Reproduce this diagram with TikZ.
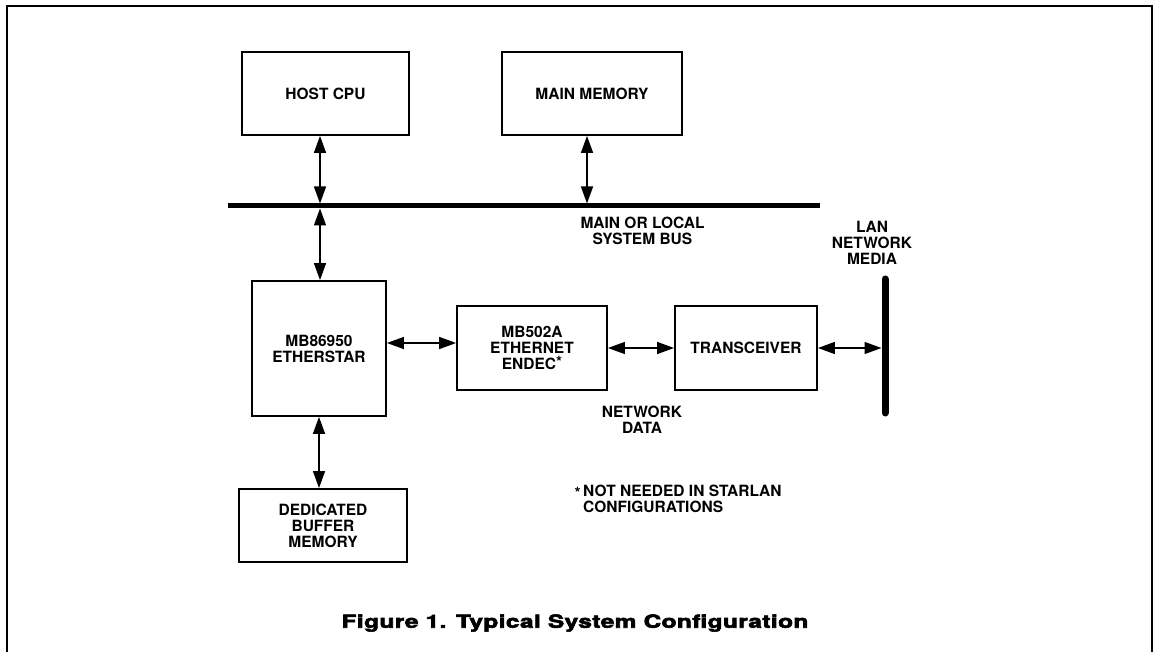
\documentclass[tikz,border=0pt]{standalone}
\usepackage{fontspec}
\setmainfont{TeX Gyre Heros}
\usetikzlibrary{arrows.meta}

\begin{document}
\begin{tikzpicture}[x=1pt, y=-1pt, font=\bfseries\fontsize{15.5}{16}\selectfont,
    blockbox/.style={draw, line width=1.8pt, inner sep=0pt, align=center},
    duplex/.style={line width=1.4pt, {Triangle[length=17pt,width=12pt]}-{Triangle[length=17pt,width=12pt]}},
    notetext/.style={inner sep=0pt, align=center}]
    \useasboundingbox (0,0) rectangle (1157,652);
    \draw[line width=1.2pt] (7,652) -- (7,6) -- (1152,6) -- (1152,652);

    % blocks
    \node[blockbox, minimum width=167pt, minimum height=83pt] (host) at (325.5,93.5) {HOST CPU};
    \node[blockbox, minimum width=180pt, minimum height=83pt] (mem) at (592,93.5) {MAIN MEMORY};
    \node[blockbox, minimum width=134pt, minimum height=135pt] (ether) at (319,348.5) {MB86950\\ETHERSTAR};
    \node[blockbox, minimum width=150pt, minimum height=84pt] (endec) at (532,348) {MB502A\\ETHERNET\\ENDEC\raisebox{0.2ex}{*}};
    \node[blockbox, minimum width=142pt, minimum height=84pt] (trans) at (746,348) {TRANSCEIVER};
    \node[blockbox, minimum width=168pt, minimum height=73pt] (buffer) at (323,525.5) {DEDICATED\\BUFFER\\MEMORY};

    % system bus and network media
    \coordinate (busL) at (228,206);
    \coordinate (busR) at (820,206);
    \draw[line width=5pt] (busL) -- (busR);
    \coordinate (mediaT) at (885,279);
    \coordinate (mediaB) at (885,413);
    \draw[line width=7pt, line cap=round] (mediaT) -- (mediaB);

    \coordinate (hosttap) at (320,203.5);
    \coordinate (memtap) at (587,203.5);
    \coordinate (ethtap) at (320,208.5);
    \coordinate (mediatap) at (881.5,348);

    % connections
    \draw[duplex] (hosttap |- host.south) -- (hosttap);
    \draw[duplex] (memtap |- mem.south) -- (memtap);
    \draw[duplex] (ethtap) -- (ethtap |- ether.north);
    \draw[duplex] (ether.east |- 0,343) -- (endec.west |- 0,343);
    \draw[duplex] (endec.east) -- (trans.west);
    \draw[duplex] (trans.east) -- (mediatap);
    \draw[duplex] (ether.south) -- (ether.south |- buffer.north);

    % labels
    \node[notetext] (buslabel) at (642.5,231) {MAIN OR LOCAL\\SYSTEM BUS};
    \node[notetext] (medialabel) at (872,243) {LAN\\NETWORK\\MEDIA};
    \node[notetext] (datalabel) at (642,420) {NETWORK\\DATA};
    \node[notetext, anchor=west, align=left] (note) at (583,498.5) {\llap{\raisebox{-0.3ex}{*}\,}NOT NEEDED IN STARLAN\\CONFIGURATIONS};
    \node[notetext, font=\bfseries\fontsize{18}{20}\selectfont\addfontfeature{FakeBold=3,LetterSpace=2}] (caption) at (575,623) {\scalebox{1.35}[1]{Figure 1. Typical System Configuration}};
\end{tikzpicture}
\end{document}
